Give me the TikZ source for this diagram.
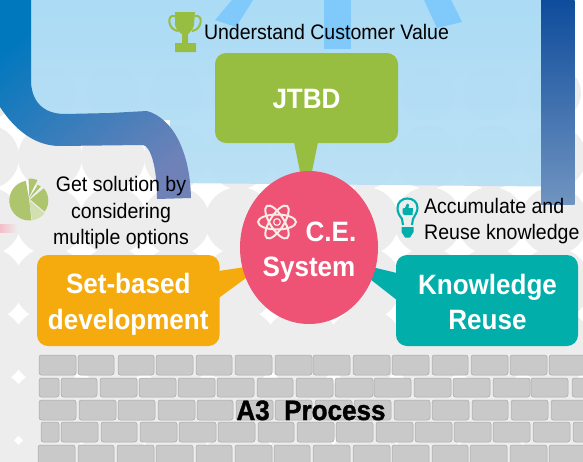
\documentclass[tikz,border=0pt]{standalone}
\usepackage{fontspec}
\setmainfont[FakeStretch=0.93]{Liberation Sans}
\newfontfamily\heavyfont[FakeStretch=0.93,FakeBold=1.2]{Liberation Sans Bold}
\usetikzlibrary{calc,shapes.geometric}
\definecolor{bgc}{HTML}{EDEDED}
\definecolor{brickc}{HTML}{C9C9C9}
\definecolor{brickd}{HTML}{A8A8A8}
\definecolor{jtbdc}{HTML}{98BE41}
\definecolor{setc}{HTML}{F5AB0E}
\definecolor{knowc}{HTML}{01AEAA}
\definecolor{cec}{HTML}{EE5275}
\definecolor{stripec}{HTML}{80C9FB}
\definecolor{iconc}{HTML}{AEC56E}
\definecolor{atomc}{HTML}{F9ECE4}
\definecolor{panelt}{HTML}{A5D9F5}
\definecolor{panelb}{HTML}{B7DFF5}
\definecolor{barA}{HTML}{0078BE}
\definecolor{barB}{HTML}{3486BE}
\definecolor{barC}{HTML}{6E82B8}
\definecolor{rbarA}{HTML}{0E4C9C}
\definecolor{rbarB}{HTML}{326EAC}
\definecolor{rbarC}{HTML}{7094C0}
\tikzset{
  callbox/.style={inner sep=0pt,text=white,align=center,
    font=\bfseries\fontsize{28}{35.5}\selectfont},
  brick/.style={fill=brickc,draw=brickd,line width=.5pt,rounded corners=2.5pt},
  plaintext/.style={text=black,font=\fontsize{21}{26.5}\selectfont,inner sep=0pt},
  titletext/.style={font=\heavyfont\fontsize{28}{30}\selectfont,inner sep=0pt,anchor=base},
}
\newcommand{\brickrow}[3]{\foreach \a/\b in {#3}{\draw[brick] (\a,#1) rectangle (\b,#2);}}
\begin{document}
\begin{tikzpicture}[x=1pt,y=-1pt]
\useasboundingbox (0,0) rectangle (583,461);
\fill[white] (0,0) rectangle (583,461);
% background circles
\foreach \yy/\rr in {93/27,157/32,221/34,284/36.5,347/38.5,410/40.5,473/42}{
  \foreach \xx in {-13,50,113,176,239,302,365,428,491,554,617}{
    \fill[bgc] (\xx,\yy) circle[radius=\rr];
  }
}
\shade[left color=cec!45!white,right color=bgc,opacity=.8] (0,224) rectangle (17,232);
% light blue panel
\shade[top color=panelt,bottom color=panelb,opacity=.92]
  (20,0) -- (545,0) -- (545,186.5) -- (170,183) -- (170,120) -- (20,120) -- cycle;
% stripes
\fill[stripec] (232,0) -- (253,0) -- (236,27) -- (215,20) -- cycle;
\fill[stripec] (324,0) rectangle (351,49);
\fill[stripec] (424,0) -- (451,0) -- (462,22) -- (437,28) -- cycle;
% bars
\shade[left color=barA,middle color=barB,right color=barC,shading angle=40]
  (0,0) -- (31,0) -- (31,80) .. controls (31,100) and (42,114) .. (65,114) -- (110,113) -- (147,111)
  .. controls (172,118) and (190,150) .. (191,198) -- (157,199)
  .. controls (157,165) and (150,146) .. (143,145) -- (60,146)
  .. controls (35,146) and (15,130) .. (0,107) -- cycle;
\shade[top color=rbarA,middle color=rbarB,bottom color=rbarC] (541,0) rectangle (574.5,204);
% bricks
\brickrow{355}{375}{39/76,78/114,118/154,156/193,196/232,235/272,275/312,313/350,353/390,392/429,432/468,471/508,510/547,549/586}
\brickrow{378}{397}{39/59,61/97,100/137,139/176,178/215,217/254,257/293,296/333,335/373,374/411,414/451,453/490,493/530,531/568,572/609}
\brickrow{400}{420}{39/76,79/116,118/155,158/195,197/233,236/273,275/312,315/352,354/391,394/430,432/469,472/508,511/548,551/588}
\brickrow{422}{442}{41/59,61/98,101/137,140/177,179/216,218/255,258/294,297/334,336/373,376/413,415/452,454/491,493/530,533/570,573/610}
\brickrow{445}{470}{38/75,78/114,117/154,156/193,196/232,235/272,274/310,313/350,353/390,392/429,432/468,470/507,510/547,549/586}
% boxes
\node[fill=jtbdc,rounded corners=11pt,minimum width=183pt,minimum height=90pt,inner sep=0pt] (jtbd) at (306.5,98) {};
\node[fill=setc,rounded corners=11pt,minimum width=182.5pt,minimum height=91pt,inner sep=0pt] (setb) at (128.25,300.5) {};
\node[fill=knowc,rounded corners=11pt,minimum width=182pt,minimum height=91pt,inner sep=0pt] (know) at (487,300.5) {};
\node[callbox] (jtbdtext) at (306.5,99.5) {JTBD};
\node[callbox] (settext) at (128.25,304.5) {Set-based\\development};
\node[callbox] (knowtext) at (487.5,302) {Knowledge\\Reuse};
% callout tails
\coordinate (cec) at (309,247.5);
\fill[jtbdc] ($(jtbd.south)+(-12.5,-1)$) -- ($(jtbd.south)+(11.5,-1)$) -- (306,201) -- cycle;
\fill[setc] ($(setb.east)+(-1,-29.5)$) -- (265,264) -- ($(setb.east)+(-1,-2.5)$) -- cycle;
\fill[knowc] ($(know.west)+(1,-27.5)$) -- (347,261) -- ($(know.west)+(1,-.5)$) -- cycle;
\node[ellipse,fill=cec,inner sep=0pt,minimum width=138pt,minimum height=153pt] (ce) at (cec) {};
\node[text=white,align=center,inner sep=0pt,font=\bfseries\fontsize{28}{35}\selectfont] (cetext) at (309,252.5) {\hspace*{44pt}C.E.\\System};
% atom icon
\begin{scope}[shift={(277,222)},draw=atomc,line width=2pt]
  \draw (0,0) ellipse[x radius=19,y radius=7.5];
  \draw[rotate=58] (0,0) ellipse[x radius=19,y radius=7];
  \draw[rotate=-58] (0,0) ellipse[x radius=19,y radius=7];
  \draw[line width=1.2pt] (0,0) circle[radius=3.4];
\end{scope}
% trophy
\fill[jtbdc] (175,12) -- (195,12) -- (194,25) .. controls (193,30) and (189,33) .. (188,34)
  -- (188,43) -- (196,43) -- (196,52) -- (175,52) -- (175,43) -- (182,43) -- (182,34)
  .. controls (180,33) and (176,30) .. (175,25) -- cycle;
\draw[jtbdc,line width=2pt] (175,16) .. controls (166,14) and (168,30) .. (178,31);
\draw[jtbdc,line width=2pt] (195,16) .. controls (204,14) and (202,30) .. (192,31);
% pie
\begin{scope}[shift={(29.3,200.5)}]
  \fill[iconc] (0,0) -- (84:20) arc[start angle=84,end angle=260,radius=20] -- cycle;
  \fill[iconc!55!white] (0,0) -- (40:20) arc[start angle=40,end angle=82,radius=20] -- cycle;
  \fill[iconc] (1,-1) -- (36:19) arc[start angle=36,end angle=-40,radius=19] -- cycle;
  \fill[iconc] (0,-2) -- (-50:18) arc[start angle=-50,end angle=-62,radius=18] -- cycle;
  \fill[iconc] (0,-4) -- (-68:22) arc[start angle=-68,end angle=-92,radius=22] -- cycle;
\end{scope}
% bulb
\draw[knowc,line width=2.1pt] (403,225) -- (402,219) .. controls (399,215) and (397.5,212) .. (397.5,208)
  .. controls (397.5,202) and (402,198.5) .. (407.5,198.5) .. controls (413,198.5) and (417.5,202) .. (417.5,208)
  .. controls (417.5,212) and (415,215) .. (413,219) -- (412,225);
\fill[knowc] (407,203.5) -- (409,204.5) -- (408.5,208) -- (413,208) -- (412.5,215) -- (404,215) -- (402.5,213) -- (402.5,208.5) -- (405,208) -- cycle;
\fill[knowc] (401.5,227) -- (413.5,227) -- (413.5,232) -- (410,237.5) -- (405,237.5) -- (401.5,232) -- cycle;
% texts
\node[plaintext,anchor=base] (t1) at (326.5,39) {Understand Customer Value};
\node[plaintext,align=center] (t2) at (121,213) {Get solution by\\considering\\multiple options};
\node[plaintext,align=left,anchor=west] (t3) at (424,221) {Accumulate and\\Reuse knowledge};
\node[titletext,text=black] (a3) at (311,420) {A3\ \ Process};
\end{tikzpicture}
\end{document}
